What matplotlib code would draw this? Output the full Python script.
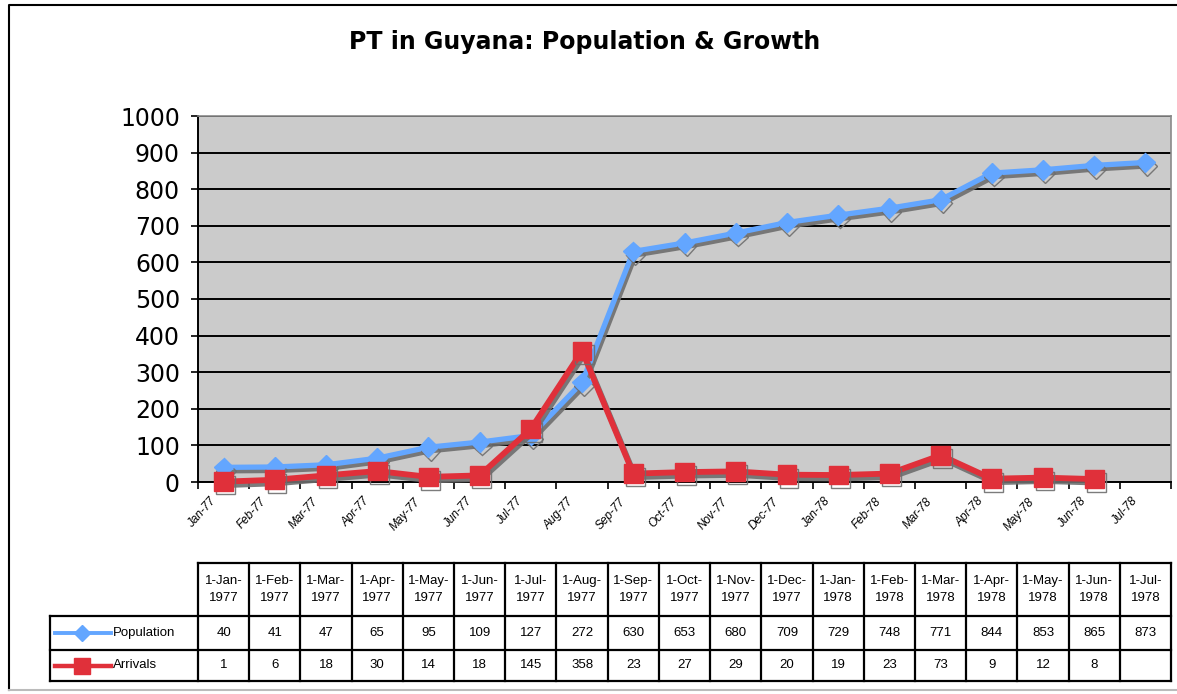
import numpy as np
import matplotlib.pyplot as plt
import matplotlib.patheffects as pe

months = ["Jan", "Feb", "Mar", "Apr", "May", "Jun", "Jul", "Aug", "Sep", "Oct",
          "Nov", "Dec", "Jan", "Feb", "Mar", "Apr", "May", "Jun", "Jul"]
years = [1977] * 12 + [1978] * 7
population = [40, 41, 47, 65, 95, 109, 127, 272, 630, 653, 680, 709, 729, 748, 771, 844, 853, 865, 873]
arrivals = [1, 6, 18, 30, 14, 18, 145, 358, 23, 27, 29, 20, 19, 23, 73, 9, 12, 8, None]

axis_labels = [f"{m}-{str(y)[2:]}" for m, y in zip(months, years)]
table_heads = [f"1-{m}-\n{y}" for m, y in zip(months, years)]
n = len(months)

W, H = 1177, 694
fig = plt.figure(figsize=(W / 100, H / 100), dpi=100)

# chart area in pixel coords
left, right, top, bottom = 198, 1171, 116, 482
ax = fig.add_axes([left / W, 1 - bottom / H, (right - left) / W, (bottom - top) / H])
ax.set_facecolor("#cbcbcb")
x = np.arange(n)
ax.set_xlim(-0.5, n - 0.5)
ax.set_ylim(0, 1000)
ax.set_yticks(range(0, 1001, 100))
ax.grid(axis="y", color="black", lw=1.4)
ax.set_axisbelow(True)
for s in ["top", "right"]:
    ax.spines[s].set_color("#8a8a8a")
    ax.spines[s].set_linewidth(1.2)
for s in ["left", "bottom"]:
    ax.spines[s].set_linewidth(1.4)
ax.tick_params(axis="y", labelsize=17, length=5, width=1.2, pad=8)
ax.set_xticks(np.arange(n + 1) - 0.5)
ax.set_xticklabels([])
ax.tick_params(axis="x", length=5, width=1.2)
for xi, lab in zip(x, axis_labels):
    ax.text(xi - 0.2, -48, lab, rotation=48, rotation_mode="anchor", ha="right", va="center",
            fontsize=8.5, style="italic", family="Liberation Sans")
for label in ax.get_yticklabels():
    label.set_fontfamily("DejaVu Sans")

shadow = [pe.SimpleLineShadow(offset=(1.5, -2.5), shadow_color="#6e6e6e", alpha=0.9), pe.Normal()]
arr = np.array([np.nan if v is None else v for v in arrivals], dtype=float)
ax.plot(x, population, color="#63a6ff", lw=3.8, marker="D", ms=10, path_effects=shadow,
        zorder=3, clip_on=False)
ax.plot(x, arr, color="#e0303a", lw=4.2, marker="s", ms=13.5, path_effects=shadow,
        zorder=4, clip_on=False)

fig.text(585 / W, 1 - 42 / H, "PT in Guyana: Population & Growth", ha="center", va="center",
         fontsize=17, fontweight="bold", family="DejaVu Sans")

# overlay axes in pixel coords for the frame and data table
ov = fig.add_axes([0, 0, 1, 1], zorder=5)
ov.set_xlim(0, W)
ov.set_ylim(H, 0)
ov.axis("off")
ov.plot([9, 9, W], [690, 5, 5], color="black", lw=1.5)
ov.plot([9, W], [690, 690], color="#bbbbbb", lw=1.5)

col_w = (right - left) / n
xb = [left + i * col_w for i in range(n + 1)]
rows_y = [563, 616, 650, 681]
leg_left = 50
lk = dict(color="black", lw=1.6)
# header row
ov.plot([left, right], [rows_y[0], rows_y[0]], **lk)
for yy in rows_y[1:]:
    ov.plot([leg_left, right], [yy, yy], **lk)
for xx in xb:
    ov.plot([xx, xx], [rows_y[0], rows_y[3]], **lk)
ov.plot([leg_left, leg_left], [rows_y[1], rows_y[3]], **lk)

tf = dict(ha="center", va="center", fontsize=9.5, family="Liberation Sans")
for i in range(n):
    cx = (xb[i] + xb[i + 1]) / 2
    ov.text(cx, (rows_y[0] + rows_y[1]) / 2, table_heads[i], linespacing=1.6, **tf)
    ov.text(cx, (rows_y[1] + rows_y[2]) / 2, str(population[i]), **tf)
    if arrivals[i] is not None:
        ov.text(cx, (rows_y[2] + rows_y[3]) / 2, str(arrivals[i]), **tf)

for (name, color, mk, ms, lw), r in zip(
        [("Population", "#63a6ff", "D", 8, 2.8), ("Arrivals", "#e0303a", "s", 12, 3.2)], [1, 2]):
    cy = (rows_y[r] + rows_y[r + 1]) / 2
    ov.plot([55, 111], [cy, cy], color=color, lw=lw)
    ov.plot([82], [cy], color=color, marker=mk, ms=ms)
    ov.text(113, cy, name, ha="left", va="center", fontsize=9.5, family="Liberation Sans")

fig.savefig("out.png", dpi=100)
